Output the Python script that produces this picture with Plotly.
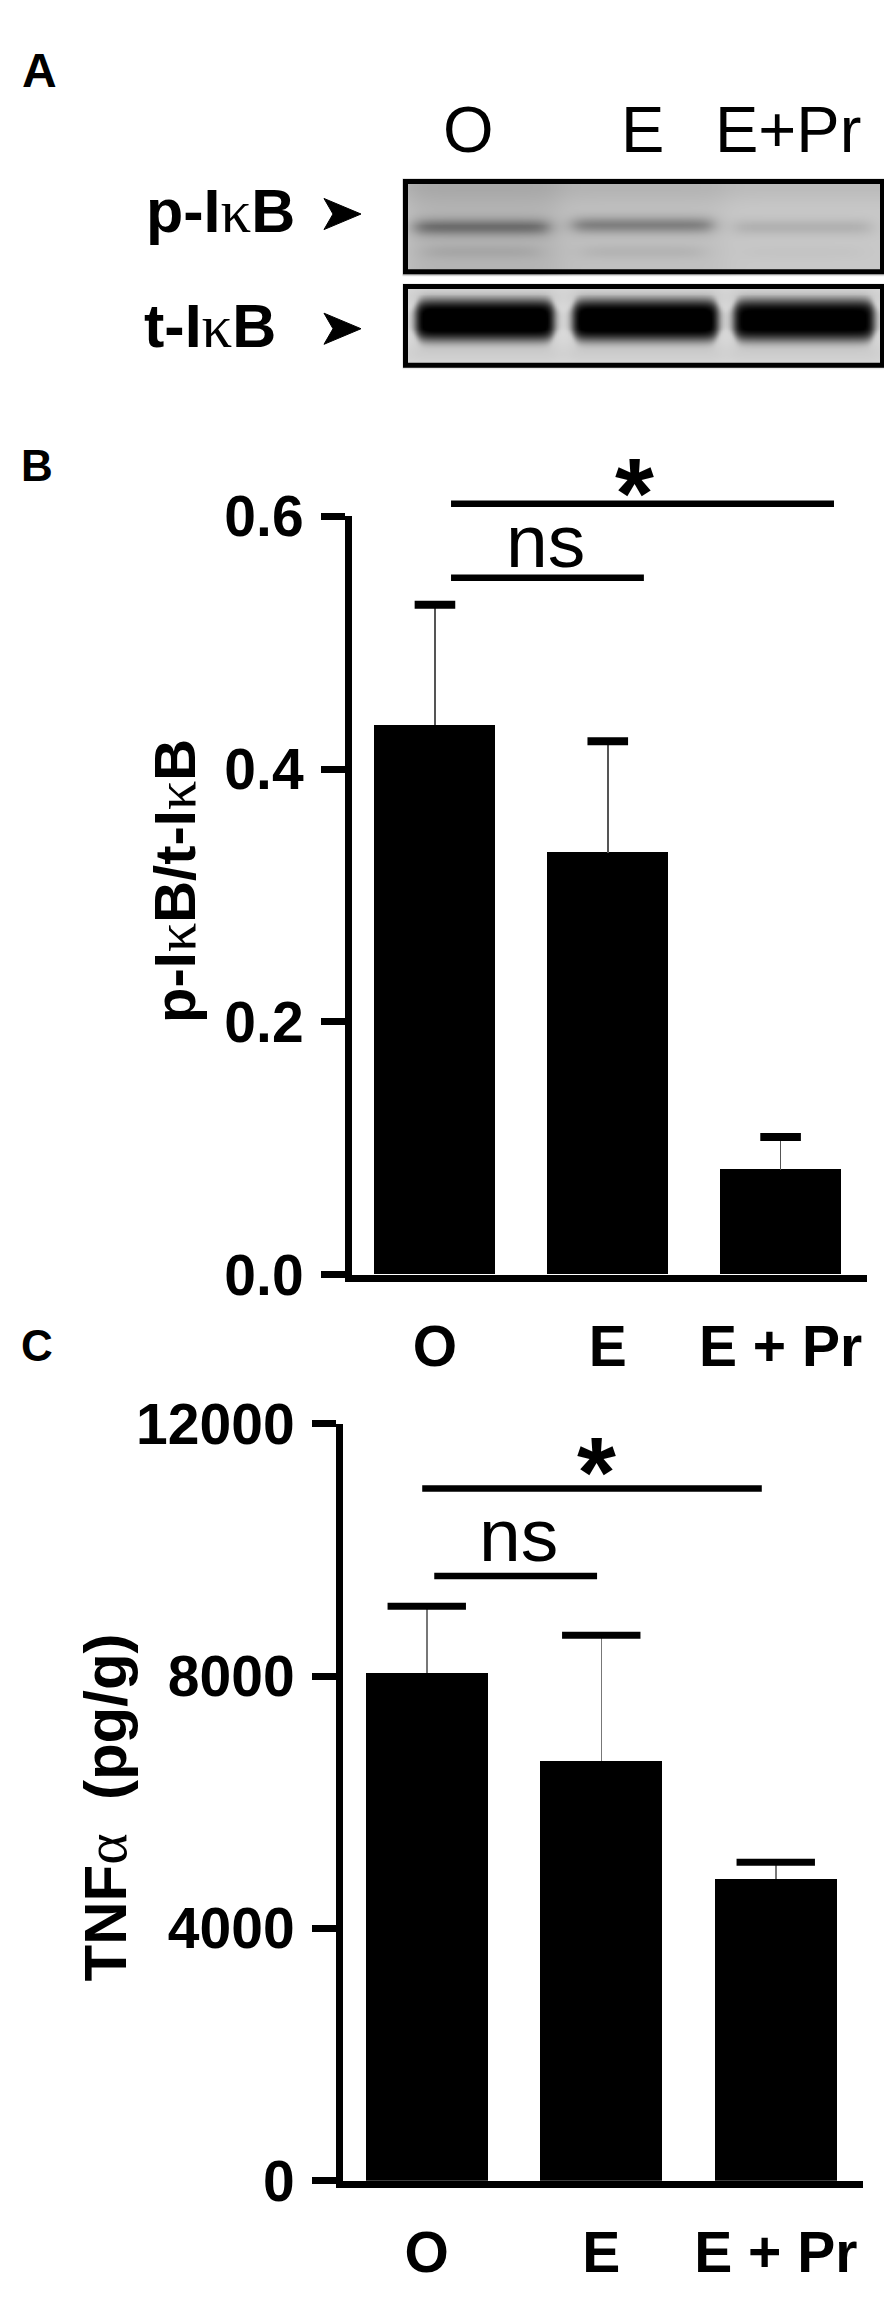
import numpy as np
import plotly.graph_objects as go

W, H = 892, 2301

# ---------------- data ----------------
groups_b = ["O", "E", "E + Pr"]
ratio_mean = [0.435, 0.334, 0.083]
ratio_sem = [0.095, 0.088, 0.026]
ratio_ticks = [0.0, 0.2, 0.4, 0.6]

groups_c = ["O", "E", "E + Pr"]
tnf_mean = [8050, 6650, 4780]
tnf_sem = [1060, 2000, 270]
tnf_ticks = [0, 4000, 8000, 12000]

blot_lanes = ["O", "E", "E+Pr"]
p_band_strength = [0.58, 0.52, 0.18]
t_band_strength = [1.0, 1.0, 0.97]

FONT = "Liberation Sans"
SERIF = "Liberation Serif"


def px(x):
    return x / W


def py(y):
    return 1 - y / H


# ---------------- blot image (panel A) ----------------
xs = np.arange(389.0, 884.0, 2.0)
ys = np.arange(137.0, 344.0, 2.0)
X, Y = np.meshgrid(xs, ys)


def lane_mask(x0, x1, w=6.0):
    return 0.5 * (np.tanh((X - x0) / w) - np.tanh((X - x1) / w))


img = np.full(X.shape, 255.0)

# p-IkB box
inside_p = (X >= 395) & (X <= 877) & (Y >= 143) & (Y <= 241)
bg_p = (200.0 - 20.0 * lane_mask(398, 552, 16) - 8.0 * lane_mask(556, 716, 16)
        - 12.0 * np.exp(-((Y - 150) / 16.0) ** 2))
p_lane_x = [(407, 540), (565, 704), (727, 862)]
p_band_y = [192, 190, 192]
dark_p = np.zeros_like(X)
for (x0, x1), yc, s in zip(p_lane_x, p_band_y, p_band_strength):
    dark_p += s * 125.0 * lane_mask(x0, x1, 10) * np.exp(-((Y - yc) / 8.5) ** 2)
    dark_p += s * 24.0 * lane_mask(x0 + 10, x1 - 10, 14) * np.exp(-((Y - 217) / 7.0) ** 2)
p_img = np.clip(bg_p - dark_p, 0, 255)
img = np.where(inside_p, p_img, img)

# t-IkB box
inside_t = (X >= 395) & (X <= 877) & (Y >= 251) & (Y <= 337)
bg_t = 220.0 - 8.0 * np.exp(-((Y - 262) / 10.0) ** 2) - 10.0 * np.exp(-((Y - 322) / 12.0) ** 2)
t_lane_x = [(406, 547), (563, 711), (724, 867)]
dark_t = np.zeros_like(X)
for (x0, x1), s in zip(t_lane_x, t_band_strength):
    m = lane_mask(x0, x1, 6)
    sig = 8.0 + 13.5 * m
    dark_t += s * 215.0 * m ** 1.5 * np.exp(-((Y - 288) / sig) ** 4)
    dark_t += s * 25.0 * m * np.exp(-((Y - 288) / 26.0) ** 2)
t_img = np.clip(bg_t - dark_t, 0, 255)
img = np.where(inside_t, t_img, img)

fig = go.Figure()

fig.add_trace(go.Heatmap(
    x=xs, y=ys, z=np.round(img, 1),
    colorscale=[[0, "rgb(0,0,0)"], [1, "rgb(255,255,255)"]],
    zmin=0, zmax=255, showscale=False, zsmooth="best",
    xaxis="x3", yaxis="y3", hoverinfo="skip",
))

# ---------------- panel B ----------------
fig.add_trace(go.Bar(
    x=[0, 1, 2], y=ratio_mean, width=0.70,
    marker=dict(color="black", line=dict(width=0)),
    error_y=dict(type="data", array=ratio_sem, arrayminus=[0, 0, 0], symmetric=False,
                 thickness=1.5, width=0, color="#555555"),
    xaxis="x", yaxis="y", hoverinfo="skip",
))
fig.add_trace(go.Scatter(
    x=[0, 1, 2], y=list(np.add(ratio_mean, ratio_sem)), mode="markers",
    marker=dict(symbol="line-ew", size=29, line=dict(width=8, color="black")),
    xaxis="x", yaxis="y", cliponaxis=False, hoverinfo="skip",
))

# ---------------- panel C ----------------
fig.add_trace(go.Bar(
    x=[0, 1, 2], y=tnf_mean, width=0.70,
    marker=dict(color="black", line=dict(width=0)),
    error_y=dict(type="data", array=tnf_sem, arrayminus=[0, 0, 0], symmetric=False,
                 thickness=1.5, width=0, color="#777777"),
    xaxis="x2", yaxis="y2", hoverinfo="skip",
))
fig.add_trace(go.Scatter(
    x=[0, 1, 2], y=list(np.add(tnf_mean, tnf_sem)), mode="markers",
    marker=dict(symbol="line-ew", size=56, line=dict(width=7, color="black")),
    xaxis="x2", yaxis="y2", cliponaxis=False, hoverinfo="skip",
))

tickfont = dict(family=FONT, size=57, color="black", weight="bold")

xaxis_common = dict(
    range=[-0.48, 2.5], tickvals=[0, 1, 2], ticks="", showline=True, linewidth=7,
    linecolor="black", showgrid=False, zeroline=False, tickfont=tickfont,
    fixedrange=True, ticklabelstandoff=16,
)
yaxis_common = dict(
    ticks="outside", ticklen=24, tickwidth=7, tickcolor="black", showline=True,
    linewidth=7, linecolor="black", showgrid=False, zeroline=False,
    tickfont=tickfont, fixedrange=True, ticklabelstandoff=6,
)

fig.update_layout(
    width=W, height=H, margin=dict(l=0, r=0, t=0, b=0),
    paper_bgcolor="white", plot_bgcolor="white", showlegend=False,
    bargap=0,
    xaxis=dict(domain=[px(344), px(859)], anchor="y", ticktext=groups_b, **xaxis_common),
    yaxis=dict(domain=[py(1270), py(490)], anchor="x", range=[0, 0.6],
               tickvals=ratio_ticks, tickformat=".1f", **yaxis_common),
    xaxis2=dict(domain=[px(335), px(855)], anchor="y2", ticktext=groups_c, **xaxis_common),
    yaxis2=dict(domain=[py(2202), py(1423.5)], anchor="x2", range=[0, 12000],
                tickvals=tnf_ticks, tickformat="d", **yaxis_common),
    xaxis3=dict(domain=[px(388), px(884)], anchor="y3", range=[388, 884], visible=False,
                fixedrange=True),
    yaxis3=dict(domain=[py(344), py(136)], anchor="x3", range=[344, 136], visible=False,
                fixedrange=True),
)

shapes = []
# blot borders
for (y0, y1) in [(145.5, 238.5), (253.5, 334.5)]:
    shapes.append(dict(type="rect", xref="x3", yref="y3", x0=397.5, x1=874.5, y0=y0, y1=y1,
                       line=dict(color="black", width=5), fillcolor="rgba(0,0,0,0)"))


def arrow(cy):
    pts = [(353, cy), (316, cy - 16), (325, cy), (316, cy + 16)]
    d = "M " + " L ".join(f"{px(a):.5f},{py(b):.5f}" for a, b in pts) + " Z"
    return dict(type="path", xref="paper", yref="paper", path=d,
                fillcolor="black", line=dict(color="black", width=1))


shapes.append(arrow(179))
shapes.append(arrow(297))

# significance bars
sig_lines = [
    ("x", "y domain", 0.093, 2.309, 1.0167),
    ("x", "y domain", 0.093, 1.209, 0.919),
    ("x2", "y2 domain", -0.026, 1.92, 0.9146),
    ("x2", "y2 domain", 0.043, 0.976, 0.799),
]
for xr, yr, x0, x1, yv in sig_lines:
    shapes.append(dict(type="line", xref=xr, yref=yr, x0=x0, x1=x1, y0=yv, y1=yv,
                       line=dict(color="black", width=6.5)))

fig.update_layout(shapes=shapes)

annotations = []


def text_ann(text, x_px, baseline_px, size, bold=False, xanchor="left", family=FONT):
    ymid = baseline_px - 0.3465 * size
    return dict(text=text, x=px(x_px), y=py(ymid), xref="paper", yref="paper",
                xanchor=xanchor, yanchor="middle", showarrow=False,
                font=dict(family=family, size=size, color="black",
                          weight="bold" if bold else "normal"))


kappa = f"<span style='font-family:{SERIF};font-weight:normal'>κ</span>"
alpha = f"<span style='font-family:{SERIF};font-weight:normal'>α</span>"

annotations.append(text_ann("A", 12, 48, 48, bold=True))
annotations.append(text_ann("B", 11, 453, 44, bold=True))
annotations.append(text_ann("C", 11, 1358, 44, bold=True))

lane_label_x = [460, 634.5, 780]
for lab, xc in zip(blot_lanes, lane_label_x):
    annotations.append(text_ann(lab, xc, 115, 65, bold=False, xanchor="center"))

annotations.append(text_ann("p-I" + kappa + "B", 136, 197, 61, bold=True))
annotations.append(text_ann("t-I" + kappa + "B", 134, 315, 61, bold=True))

# y-axis titles
annotations.append(dict(text="p-I" + kappa + "B/t-I" + kappa + "B", textangle=-90,
                        x=px(167), y=py(865), xref="paper", yref="paper",
                        xanchor="center", yanchor="middle", showarrow=False,
                        font=dict(family=FONT, size=58, color="black", weight="bold")))
annotations.append(dict(text="TNF" + alpha + "  (pg/g)", textangle=-90,
                        x=px(97), y=py(1818), xref="paper", yref="paper",
                        xanchor="center", yanchor="middle", showarrow=False,
                        font=dict(family=FONT, size=60, color="black", weight="bold")))

# significance labels
sig_text = [
    ("*", "x", "y domain", 1.157, 1.031, 100, True),
    ("ns", "x", "y domain", 0.637, 0.968, 75, False),
    ("*", "x2", "y2 domain", 0.973, 0.936, 100, True),
    ("ns", "x2", "y2 domain", 0.524, 0.853, 75, False),
]
for t, xr, yr, xv, yv, size, bold in sig_text:
    annotations.append(dict(text=t, x=xv, y=yv, xref=xr, yref=yr, xanchor="center",
                            yanchor="middle", showarrow=False,
                            font=dict(family=FONT, size=size, color="black",
                                      weight="bold" if bold else "normal")))

fig.update_layout(annotations=annotations)

fig.write_html("out.html")
